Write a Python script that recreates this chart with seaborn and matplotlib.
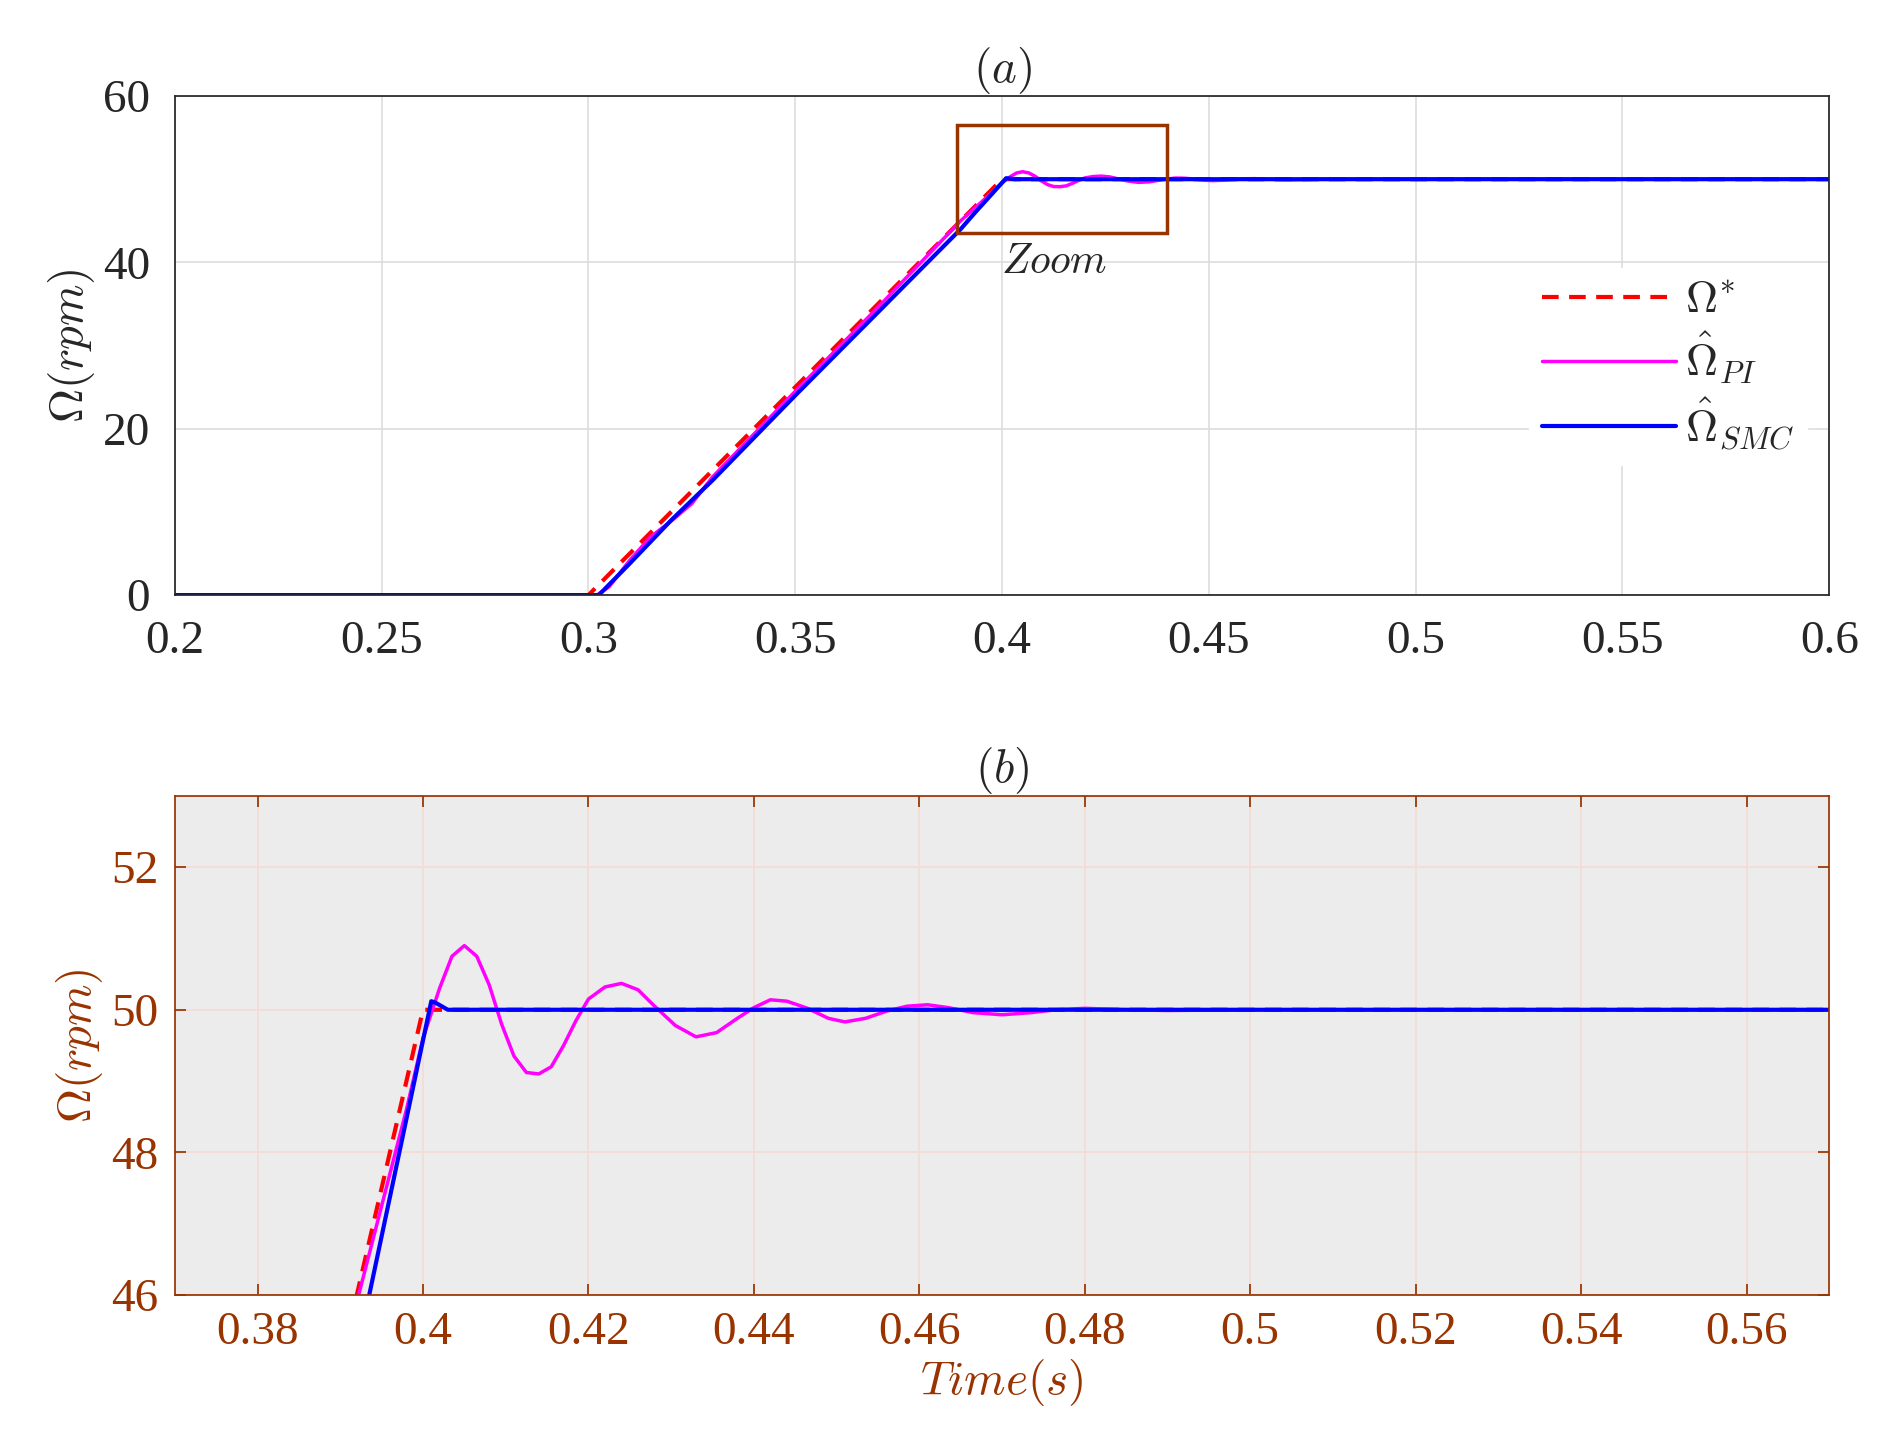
import matplotlib
matplotlib.use("Agg")
import matplotlib.pyplot as plt
import matplotlib.patches as mpatches
import seaborn as sns

sns.set_theme(style="whitegrid")
plt.rcParams["font.family"] = ["Liberation Serif", "DejaVu Serif"]
plt.rcParams["mathtext.fontset"] = "cm"

BROWN = "#993300"

# reference speed
t_ref = [0.2, 0.3, 0.4, 0.6]
w_ref = [0.0, 0.0, 50.0, 50.0]

# PI estimate (oscillating settle)
t_pi = [0.2, 0.302, 0.305, 0.31, 0.315, 0.32, 0.325, 0.33, 0.35, 0.37, 0.39, 0.398, 0.4,
        0.402, 0.4035, 0.405, 0.4065, 0.408, 0.4095, 0.411, 0.4125, 0.414, 0.4155, 0.417,
        0.4185, 0.42, 0.422, 0.424, 0.426, 0.428, 0.4305, 0.433, 0.4355, 0.438, 0.44,
        0.442, 0.444, 0.4465, 0.449, 0.451, 0.4535, 0.456, 0.4585, 0.461, 0.4635,
        0.4665, 0.47, 0.4735, 0.4765, 0.48, 0.485, 0.49, 0.5, 0.51, 0.6]
w_pi = [0.0, 0.0, 1.0, 4.2, 7.0, 8.9, 11.0, 14.2, 24.5, 34.6, 45.0, 48.6, 49.6,
        50.3, 50.75, 50.9, 50.75, 50.35, 49.8, 49.35, 49.12, 49.1, 49.2, 49.5,
        49.85, 50.15, 50.32, 50.37, 50.28, 50.05, 49.78, 49.62, 49.68, 49.88, 50.03,
        50.14, 50.12, 50.02, 49.88, 49.83, 49.88, 49.98, 50.05, 50.07, 50.03,
        49.96, 49.93, 49.96, 50.0, 50.02, 50.0, 49.99, 50.0, 50.0, 50.0]

# SMC estimate
t_smc = [0.2, 0.3025, 0.31, 0.32, 0.33, 0.35, 0.37, 0.39, 0.3935, 0.401, 0.4015, 0.403, 0.405, 0.6]
w_smc = [0.0, 0.0, 3.8, 9.0, 13.8, 24.0, 34.0, 44.0, 46.0, 50.12, 50.1, 50.0, 50.0, 50.0]

fig = plt.figure(figsize=(18.8, 14.55), dpi=100)
ax1 = fig.add_axes([0.093, 0.591, 0.88, 0.343])
ax2 = fig.add_axes([0.093, 0.110, 0.88, 0.343])

def draw(ax):
    sns.lineplot(x=t_ref, y=w_ref, ax=ax, color="red", lw=3, ls=(0, (4, 2.5)), label=r"$\Omega^{*}$")
    sns.lineplot(x=t_pi, y=w_pi, ax=ax, color="magenta", lw=2.5, label=r"$\hat{\Omega}_{PI}$")
    sns.lineplot(x=t_smc, y=w_smc, ax=ax, color="blue", lw=3, label=r"$\hat{\Omega}_{SMC}$")

draw(ax1)
ax1.set_xlim(0.2, 0.6)
ax1.set_ylim(0, 60)
ax1.set_xticks([0.2, 0.25, 0.3, 0.35, 0.4, 0.45, 0.5, 0.55, 0.6])
ax1.set_xticklabels(["0.2", "0.25", "0.3", "0.35", "0.4", "0.45", "0.5", "0.55", "0.6"])
ax1.set_yticks([0, 20, 40, 60])
ax1.set_title(r"$(a)$", fontsize=34, pad=10)
ax1.set_ylabel(r"$\Omega(rpm)$", fontsize=34)
ax1.tick_params(labelsize=34, colors="#262626", pad=12)
for s in ax1.spines.values():
    s.set_color("#262626")
ax1.grid(color="#dddddd", lw=1.2)
ax1.add_patch(mpatches.Rectangle((0.389, 43.5), 0.051, 13, fill=False, ec=BROWN, lw=2.5, zorder=5))
ax1.text(0.4125, 40, r"$Zoom$", ha="center", va="center", fontsize=30)
ax1.legend(loc="upper right", bbox_to_anchor=(1.0, 0.7), fontsize=32, frameon=True,
           facecolor="white", edgecolor="white", handlelength=3.0, handletextpad=0.2,
           labelspacing=0.2, borderpad=0.3, framealpha=1)

draw(ax2)
ax2.get_legend().remove()
ax2.set_facecolor("#ececec")
ax2.set_xlim(0.37, 0.57)
ax2.set_ylim(46, 53)
ax2.set_xticks([0.38, 0.4, 0.42, 0.44, 0.46, 0.48, 0.5, 0.52, 0.54, 0.56])
ax2.set_xticklabels(["0.38", "0.4", "0.42", "0.44", "0.46", "0.48", "0.5", "0.52", "0.54", "0.56"])
ax2.set_yticks([46, 48, 50, 52])
ax2.set_title(r"$(b)$", fontsize=34, pad=10)
ax2.set_ylabel(r"$\Omega(rpm)$", fontsize=34, color=BROWN)
ax2.set_xlabel(r"$Time(s)$", fontsize=34, color=BROWN, labelpad=2)
ax2.tick_params(labelsize=34, colors=BROWN, direction="in", length=8, pad=12,
                right=True, top=True, left=True, bottom=True)
for s in ax2.spines.values():
    s.set_color(BROWN)
ax2.grid(color="#f4dcd2", lw=1.2)

fig.savefig("out.png", dpi=100, facecolor="white")
